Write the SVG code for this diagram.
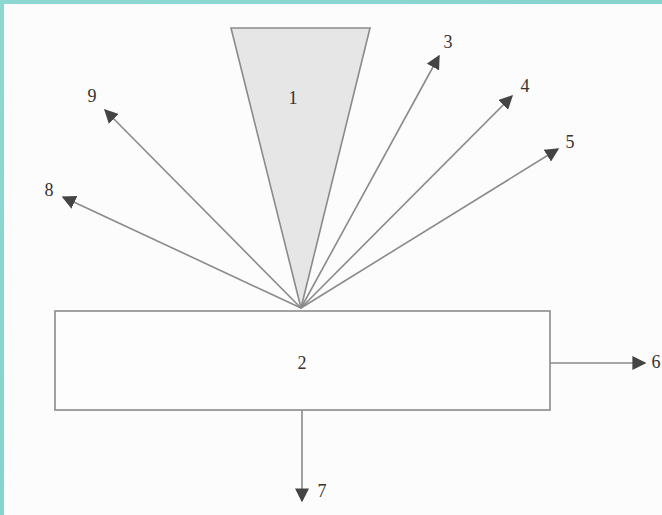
<svg xmlns="http://www.w3.org/2000/svg" width="662" height="515" viewBox="0 0 662 515">
<defs>
<marker id="ah" viewBox="0 0 10 10" refX="9" refY="5" markerWidth="14" markerHeight="14" markerUnits="userSpaceOnUse" orient="auto">
<path d="M0,0 L10,5 L0,10 z" fill="#444"/>
</marker>
<linearGradient id="bg" x1="0" y1="0" x2="1" y2="1">
<stop offset="0" stop-color="#8fd8d2"/>
<stop offset="1" stop-color="#7ccfc8"/>
</linearGradient>
</defs>
<style>
.c{stroke:#8a8a8a;stroke-width:1.6;fill:none;marker-end:url(#ah)}
.t{font-family:"Liberation Serif",serif;font-size:18px;fill:#333;text-anchor:middle;dominant-baseline:central}
</style>
<rect x="0" y="0" width="662" height="515" fill="url(#bg)"/>
<rect x="4" y="4" width="658" height="511" fill="#fcfcfc"/>
<g id="node1">
<polygon points="231,28 370,28 301,308" fill="#e6e6e6" stroke="#8a8a8a" stroke-width="1.6"/>
<text class="t" x="293" y="98">1</text>
</g>
<g id="node2">
<rect x="55" y="311" width="495" height="99" fill="#fdfdfd" stroke="#8a8a8a" stroke-width="1.6"/>
<text class="t" x="302" y="363">2</text>
</g>
<g id="connectors">
<line class="c" x1="301" y1="308" x2="439" y2="56"/>
<line class="c" x1="301" y1="308" x2="512" y2="96"/>
<line class="c" x1="301" y1="308" x2="558" y2="149"/>
<line class="c" x1="301" y1="308" x2="105" y2="110"/>
<line class="c" x1="301" y1="308" x2="63" y2="197"/>
<line class="c" x1="550" y1="363" x2="645" y2="363"/>
<line class="c" x1="302" y1="410" x2="302" y2="501"/>
</g>
<g id="labels">
<text class="t" x="448" y="42">3</text>
<text class="t" x="525" y="86">4</text>
<text class="t" x="570" y="142">5</text>
<text class="t" x="656" y="362">6</text>
<text class="t" x="322" y="491">7</text>
<text class="t" x="49" y="190">8</text>
<text class="t" x="92" y="96">9</text>
</g>
</svg>
